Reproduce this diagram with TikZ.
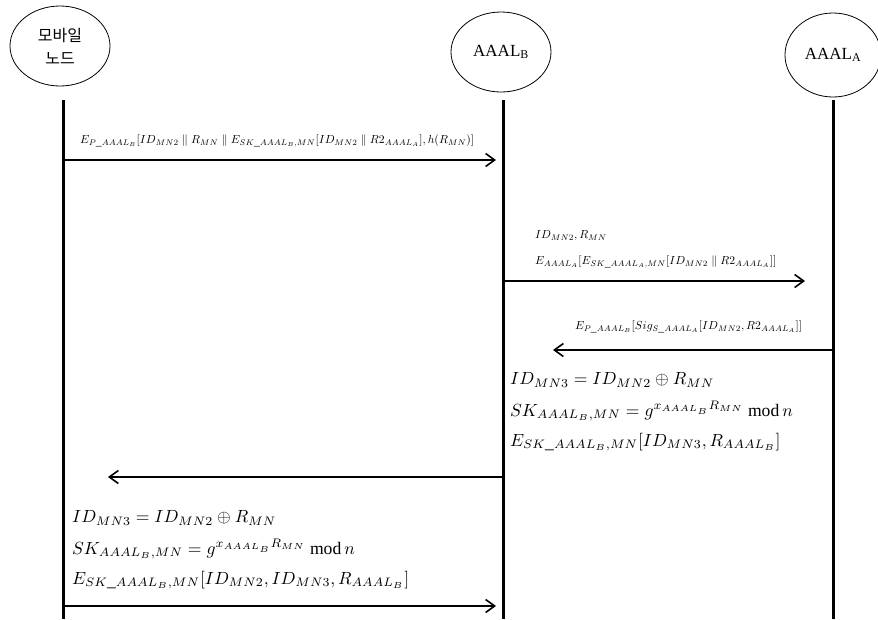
\documentclass[tikz,border=0pt]{standalone}
\usepackage{graphicx}
\usepackage{fontspec}
\setmainfont{Liberation Serif}
\newfontfamily\krfont{Noto Sans CJK KR}
\usetikzlibrary{arrows.meta,shapes.geometric}
\newcommand{\msgmath}[1]{\scalebox{1.165}{$#1$}}
\newcommand{\calcmath}[1]{\scalebox{1.76}{$#1$}}
\begin{document}
\begin{tikzpicture}[x=1pt,y=-1pt,
  actor/.style={draw,ellipse,line width=0.8pt,minimum width=100pt,minimum height=80pt,inner sep=0pt,font=\fontsize{17}{20}\selectfont},
  life/.style={line width=3pt},
  msg/.style={line width=2.4pt,-{Straight Barb[length=9pt,width=13pt,line width=1.6pt]}},
  lab/.style={anchor=west,inner sep=0pt,font=\fontsize{10}{12}\selectfont},
  big/.style={anchor=west,inner sep=0pt,font=\fontsize{10}{12}\selectfont}]
\useasboundingbox (0,0) rectangle (878,619);
\node[actor,align=center,font=\krfont\fontsize{16}{23}\selectfont] (mn) at (60,46) {모바일\\노드};
\node[actor] (b) at (501,52) {AAAL\textsubscript{B}};
\node[actor,minimum width=96pt,minimum height=84pt] (a) at (833,55) {AAAL\textsubscript{A}};
\coordinate (mnT) at (63,100); \coordinate (mnB) at (63,619);
\coordinate (bT) at (503,100); \coordinate (bB) at (503,619);
\coordinate (aT) at (833,100); \coordinate (aB) at (833,619);
\draw[life] (mnT) -- (mnB);
\draw[life] (bT) -- (bB);
\draw[life] (aT) -- (aB);
% message 1
\coordinate (m1s) at (63,160); \coordinate (m1e) at (496,160);
\draw[msg] (m1s) -- (m1e);
\node[lab] (l1) at (80,141) {\msgmath{E_{P\_AAAL_B}[ID_{MN2}\parallel R_{MN}\parallel E_{SK\_AAAL_B,MN}[ID_{MN2}\parallel R2_{AAAL_A}],h(R_{MN})]}};
% message 2
\coordinate (m2s) at (503,281); \coordinate (m2e) at (805,281);
\draw[msg] (m2s) -- (m2e);
\node[lab] (l2a) at (535,236) {\msgmath{ID_{MN2},R_{MN}}};
\node[lab] (l2b) at (535,262) {\msgmath{E_{AAAL_A}[E_{SK\_AAAL_A,MN}[ID_{MN2}\parallel R2_{AAAL_A}]]}};
% message 3
\coordinate (m3s) at (833,350); \coordinate (m3e) at (553,350);
\draw[msg] (m3s) -- (m3e);
\node[lab] (l3) at (575,327) {\msgmath{E_{P\_AAAL_B}[Sig_{S\_AAAL_A}[ID_{MN2},R2_{AAAL_A}]]}};
% computation at B
\node[big] (c1) at (510,380) {\calcmath{ID_{MN3}=ID_{MN2}\oplus R_{MN}}};
\node[big] (c2) at (510,411) {\calcmath{SK_{AAAL_B,MN}=g^{x_{AAAL_B}R_{MN}}\ \mathrm{mod}\,n}};
\node[big] (c3) at (510,442) {\calcmath{E_{SK\_AAAL_B,MN}[ID_{MN3},R_{AAAL_B}]}};
% message 4
\coordinate (m4s) at (503,477); \coordinate (m4e) at (108,477);
\draw[msg] (m4s) -- (m4e);
% computation at MN
\node[big] (d1) at (72,518) {\calcmath{ID_{MN3}=ID_{MN2}\oplus R_{MN}}};
\node[big] (d2) at (72,549) {\calcmath{SK_{AAAL_B,MN}=g^{x_{AAAL_B}R_{MN}}\ \mathrm{mod}\,n}};
\node[big] (d3) at (72,580) {\calcmath{E_{SK\_AAAL_B,MN}[ID_{MN2},ID_{MN3},R_{AAAL_B}]}};
% message 5
\coordinate (m5s) at (63,606); \coordinate (m5e) at (496,606);
\draw[msg] (m5s) -- (m5e);
\end{tikzpicture}
\end{document}
